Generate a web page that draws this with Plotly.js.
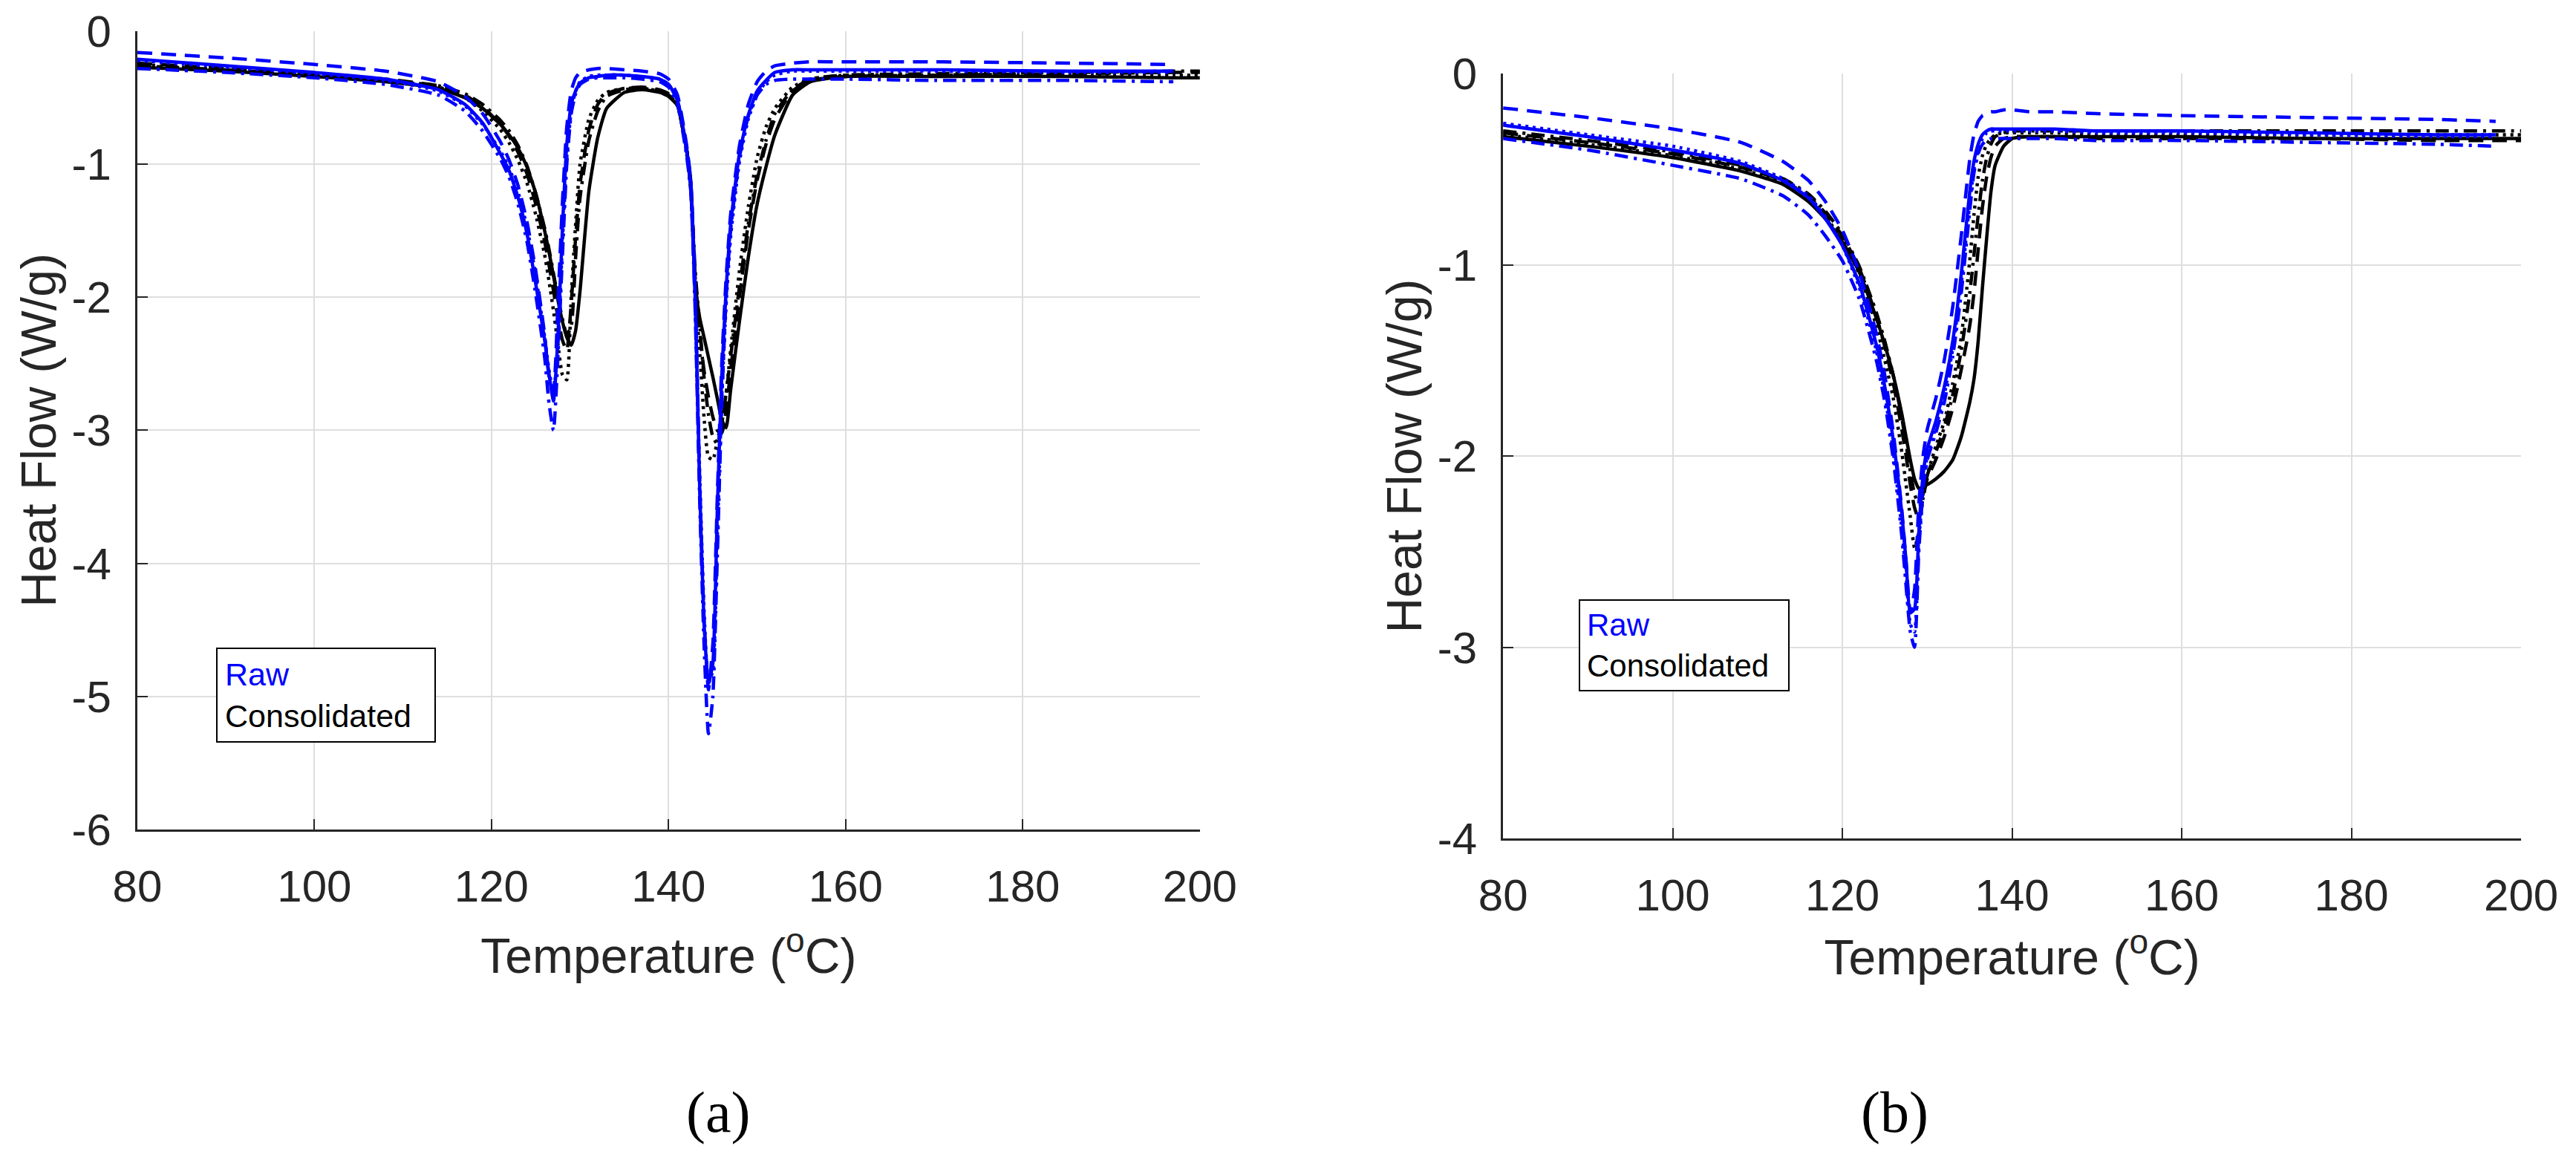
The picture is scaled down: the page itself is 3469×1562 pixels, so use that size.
<!DOCTYPE html>
<html>
<head>
<meta charset="utf-8">
<script src="https://cdn.plot.ly/plotly-3.0.1.min.js"></script>
<style>
    html, body { margin: 0; padding: 0; background: #ffffff; }
    #graph { width: 3469px; height: 1562px; }
</style>
</head>
<body>
<div id="graph"></div>
<script>
// temperature grid (C) for panel (a) and (b)
var tempA = [80, 90, 100, 108, 114, 117, 119, 121, 122, 123, 124, 125, 126, 126.5, 127, 127.5, 128, 128.5, 129, 129.5,
    130, 131, 132, 133, 135, 137, 139, 140, 141, 142, 142.5, 143, 143.5, 144, 144.5, 145, 145.5, 146, 146.5, 147,
    148, 149, 150, 151, 152, 154, 156, 160, 170, 185, 197, 200];
var tempB = [80, 90, 100, 108, 113, 116, 118, 120, 122, 124, 125, 126, 127, 127.5, 128, 128.5, 129, 129.5, 130, 131,
    132, 133, 134, 135, 135.5, 136, 136.5, 137, 137.5, 138, 139, 140, 142, 145, 150, 160, 175, 190, 197, 200];

// panel (a) heat flow (W/g), raw samples (blue)
var rawA_solid = [-0.21, -0.26, -0.31, -0.36, -0.44, -0.55, -0.69, -0.92, -1.05, -1.25, -1.52, -1.90, -2.32, -2.58, -2.78, -2.30, -1.50, -0.85, -0.55, -0.45,
    -0.39, -0.35, -0.34, -0.33, -0.33, -0.34, -0.36, -0.40, -0.52, -0.88, -1.15, -2.00, -3.40, -4.45, -4.90, -4.75, -3.60, -2.60, -1.94, -1.46,
    -0.92, -0.63, -0.45, -0.37, -0.31, -0.29, -0.29, -0.29, -0.29, -0.30, -0.30, null];
var rawA_dash = [-0.16, -0.20, -0.25, -0.30, -0.38, -0.49, -0.62, -0.83, -0.97, -1.16, -1.43, -1.80, -2.28, -2.60, -2.70, -2.05, -1.30, -0.72, -0.45, -0.35,
    -0.31, -0.29, -0.28, -0.28, -0.29, -0.30, -0.32, -0.36, -0.48, -0.84, -1.12, -1.95, -3.35, -4.40, -4.95, -4.60, -3.50, -2.50, -1.85, -1.38,
    -0.86, -0.55, -0.38, -0.30, -0.26, -0.24, -0.23, -0.23, -0.23, -0.24, -0.25, null];
var rawA_dot = [-0.22, -0.27, -0.32, -0.37, -0.45, -0.56, -0.70, -0.90, -1.03, -1.21, -1.47, -1.84, -2.30, -2.55, -2.72, -2.35, -1.60, -0.95, -0.60, -0.45,
    -0.38, -0.34, -0.33, -0.33, -0.33, -0.34, -0.36, -0.40, -0.52, -0.88, -1.18, -2.05, -3.30, -4.35, -4.90, -4.80, -3.80, -2.75, -2.05, -1.55,
    -0.98, -0.66, -0.48, -0.38, -0.33, -0.30, -0.30, -0.30, -0.30, -0.31, -0.31, null];
var rawA_dashdot = [-0.28, -0.31, -0.35, -0.40, -0.48, -0.60, -0.75, -0.96, -1.10, -1.30, -1.58, -1.98, -2.45, -2.80, -3.00, -2.45, -1.70, -1.00, -0.62, -0.47,
    -0.40, -0.36, -0.35, -0.35, -0.35, -0.36, -0.38, -0.42, -0.55, -0.92, -1.20, -2.10, -3.50, -4.60, -5.28, -5.00, -3.95, -2.80, -2.00, -1.50,
    -0.95, -0.64, -0.48, -0.40, -0.37, -0.36, -0.36, -0.36, -0.37, -0.37, -0.38, null];

// panel (a) consolidated samples (black)
var consA_solid = [-0.27, -0.30, -0.34, -0.38, -0.43, -0.50, -0.58, -0.70, -0.78, -0.88, -1.02, -1.22, -1.50, -1.66, -1.84, -2.02, -2.18, -2.30, -2.36, -2.25,
    -1.95, -1.20, -0.80, -0.58, -0.46, -0.44, -0.46, -0.49, -0.56, -0.88, -1.12, -1.90, -2.15, -2.30, -2.45, -2.60, -2.76, -2.92, -2.98, -2.70,
    -2.18, -1.70, -1.30, -1.02, -0.78, -0.48, -0.38, -0.34, -0.34, -0.34, -0.35, -0.35];
var consA_dash = [-0.24, -0.28, -0.32, -0.36, -0.41, -0.48, -0.57, -0.70, -0.79, -0.91, -1.07, -1.30, -1.58, -1.76, -1.95, -2.15, -2.32, -2.40, -2.05, -1.55,
    -1.15, -0.74, -0.55, -0.47, -0.43, -0.42, -0.44, -0.47, -0.55, -0.88, -1.18, -1.85, -2.25, -2.55, -2.75, -2.90, -3.00, -3.02, -2.85, -2.55,
    -2.00, -1.50, -1.12, -0.85, -0.66, -0.45, -0.37, -0.34, -0.33, -0.32, -0.31, -0.31];
var consA_dot = [-0.25, -0.29, -0.33, -0.37, -0.42, -0.50, -0.60, -0.74, -0.84, -0.97, -1.14, -1.38, -1.68, -1.88, -2.10, -2.35, -2.58, -2.62, -2.00, -1.45,
    -1.00, -0.66, -0.52, -0.46, -0.43, -0.43, -0.45, -0.48, -0.56, -0.90, -1.20, -1.95, -2.40, -2.90, -3.20, -3.22, -3.08, -2.92, -2.72, -2.40,
    -1.80, -1.32, -0.95, -0.72, -0.58, -0.42, -0.36, -0.33, -0.33, -0.33, -0.33, -0.33];
var consA_dashdot = [-0.26, -0.29, -0.33, -0.37, -0.41, -0.47, -0.55, -0.67, -0.75, -0.86, -1.01, -1.22, -1.48, -1.64, -1.82, -2.00, -2.16, -2.28, -2.22, -1.70,
    -1.25, -0.82, -0.60, -0.49, -0.44, -0.43, -0.45, -0.48, -0.55, -0.86, -1.15, -1.80, -2.20, -2.60, -2.88, -3.05, -3.10, -2.95, -2.72, -2.45,
    -1.92, -1.45, -1.08, -0.82, -0.62, -0.44, -0.36, -0.33, -0.32, -0.31, -0.30, -0.30];

// panel (b) raw samples (blue)
var rawB_solid = [-0.27, -0.33, -0.40, -0.47, -0.56, -0.65, -0.76, -0.90, -1.10, -1.42, -1.64, -1.92, -2.30, -2.55, -2.82, -2.80, -2.40, -2.10, -1.96, -1.82,
    -1.64, -1.40, -1.05, -0.62, -0.46, -0.37, -0.32, -0.30, -0.29, -0.29, -0.29, -0.29, -0.29, -0.29, -0.30, -0.30, -0.31, -0.32, -0.32, null];
var rawB_dash = [-0.18, -0.23, -0.29, -0.36, -0.46, -0.56, -0.67, -0.82, -1.04, -1.36, -1.58, -1.88, -2.28, -2.55, -2.82, -2.70, -2.25, -2.00, -1.86, -1.70,
    -1.50, -1.22, -0.85, -0.45, -0.32, -0.25, -0.22, -0.21, -0.20, -0.20, -0.19, -0.19, -0.20, -0.20, -0.21, -0.22, -0.23, -0.24, -0.25, null];
var rawB_dot = [-0.26, -0.32, -0.38, -0.46, -0.55, -0.64, -0.75, -0.90, -1.12, -1.45, -1.68, -1.98, -2.38, -2.62, -2.88, -2.92, -2.45, -2.15, -2.00, -1.85,
    -1.68, -1.44, -1.10, -0.68, -0.50, -0.40, -0.34, -0.31, -0.30, -0.30, -0.30, -0.30, -0.30, -0.30, -0.31, -0.31, -0.32, -0.33, -0.33, null];
var rawB_dashdot = [-0.34, -0.40, -0.48, -0.55, -0.64, -0.74, -0.85, -0.98, -1.18, -1.50, -1.72, -2.02, -2.42, -2.68, -2.92, -3.00, -2.50, -2.18, -2.02, -1.88,
    -1.72, -1.48, -1.15, -0.72, -0.52, -0.42, -0.37, -0.35, -0.34, -0.34, -0.34, -0.34, -0.34, -0.34, -0.35, -0.35, -0.36, -0.37, -0.38, null];

// panel (b) consolidated samples (black)
var consB_solid = [-0.33, -0.38, -0.44, -0.51, -0.58, -0.67, -0.76, -0.88, -1.04, -1.28, -1.42, -1.58, -1.78, -1.90, -2.02, -2.12, -2.17, -2.16, -2.15, -2.12,
    -2.08, -2.02, -1.90, -1.72, -1.60, -1.40, -1.12, -0.86, -0.62, -0.48, -0.38, -0.34, -0.33, -0.33, -0.33, -0.33, -0.34, -0.34, -0.34, -0.34];
var consB_dash = [-0.31, -0.36, -0.42, -0.49, -0.56, -0.64, -0.73, -0.85, -1.02, -1.27, -1.43, -1.62, -1.86, -2.00, -2.15, -2.27, -2.33, -2.22, -2.12, -2.02,
    -1.90, -1.75, -1.55, -1.32, -1.15, -0.92, -0.70, -0.54, -0.44, -0.38, -0.34, -0.33, -0.33, -0.33, -0.34, -0.34, -0.34, -0.35, -0.35, -0.35];
var consB_dot = [-0.32, -0.37, -0.43, -0.50, -0.57, -0.65, -0.75, -0.87, -1.05, -1.32, -1.50, -1.70, -1.98, -2.15, -2.32, -2.48, -2.40, -2.22, -2.10, -1.95,
    -1.82, -1.62, -1.38, -0.98, -0.74, -0.54, -0.43, -0.37, -0.34, -0.32, -0.31, -0.31, -0.31, -0.31, -0.32, -0.32, -0.32, -0.32, -0.32, -0.32];
var consB_dashdot = [-0.30, -0.35, -0.41, -0.48, -0.55, -0.63, -0.72, -0.84, -1.01, -1.25, -1.40, -1.58, -1.80, -1.94, -2.08, -2.20, -2.25, -2.20, -2.10, -1.98,
    -1.85, -1.68, -1.45, -1.15, -0.95, -0.74, -0.56, -0.44, -0.37, -0.33, -0.31, -0.30, -0.30, -0.30, -0.30, -0.30, -0.30, -0.30, -0.30, -0.30];

var xTicks = [80, 100, 120, 140, 160, 180, 200];
var yTicksA = [0, -1, -2, -3, -4, -5, -6];
var yTicksB = [0, -1, -2, -3, -4];
// plain hyphen minus as in the matlab figure
var yLabelsA = ['0', '-1', '-2', '-3', '-4', '-5', '-6'];
var yLabelsB = ['0', '-1', '-2', '-3', '-4'];

var BLUE = '#0000ff';
var BLACK = '#000000';
// matlab style line patterns
var DASH = '20px,12px';
var DOT = '4px,6px';
var DASHDOT = '18px,8px,4px,8px';

function makeTrace(x, y, color, dash, xa, ya) {
    return {
        x: x,
        y: y,
        mode: 'lines',
        type: 'scatter',
        xaxis: xa,
        yaxis: ya,
        showlegend: false,
        hoverinfo: 'skip',
        line: {color: color, width: 4.5, dash: dash, shape: 'spline', smoothing: 0.5}
    };
}

var data = [
    makeTrace(tempA, consA_solid, BLACK, 'solid', 'x', 'y'),
    makeTrace(tempA, consA_dash, BLACK, DASH, 'x', 'y'),
    makeTrace(tempA, consA_dot, BLACK, DOT, 'x', 'y'),
    makeTrace(tempA, consA_dashdot, BLACK, DASHDOT, 'x', 'y'),
    makeTrace(tempA, rawA_solid, BLUE, 'solid', 'x', 'y'),
    makeTrace(tempA, rawA_dash, BLUE, DASH, 'x', 'y'),
    makeTrace(tempA, rawA_dot, BLUE, DOT, 'x', 'y'),
    makeTrace(tempA, rawA_dashdot, BLUE, DASHDOT, 'x', 'y'),

    makeTrace(tempB, consB_solid, BLACK, 'solid', 'x2', 'y2'),
    makeTrace(tempB, consB_dash, BLACK, DASH, 'x2', 'y2'),
    makeTrace(tempB, consB_dot, BLACK, DOT, 'x2', 'y2'),
    makeTrace(tempB, consB_dashdot, BLACK, DASHDOT, 'x2', 'y2'),
    makeTrace(tempB, rawB_solid, BLUE, 'solid', 'x2', 'y2'),
    makeTrace(tempB, rawB_dash, BLUE, DASH, 'x2', 'y2'),
    makeTrace(tempB, rawB_dot, BLUE, DOT, 'x2', 'y2'),
    makeTrace(tempB, rawB_dashdot, BLUE, DASHDOT, 'x2', 'y2')
];

var tickFont = {family: 'Liberation Sans, Arial, sans-serif', size: 60, color: '#262626'};
var titleFont = {family: 'Liberation Sans, Arial, sans-serif', size: 66, color: '#262626'};

function xAxis(domain, anchor, standoff) {
    return {
        domain: domain,
        anchor: anchor,
        range: [80, 200],
        tickvals: xTicks,
        ticks: 'inside',
        ticklen: 14,
        tickwidth: 2,
        tickcolor: '#262626',
        showline: true,
        linecolor: '#262626',
        linewidth: 3,
        showgrid: true,
        gridcolor: '#dedede',
        gridwidth: 2,
        zeroline: false,
        tickfont: tickFont,
        ticklabelstandoff: 22,
        title: {text: 'Temperature (<sup>o</sup>C)', font: titleFont, standoff: standoff}
    };
}
function yAxis(domain, anchor, range, ticks, labels) {
    return {
        domain: domain,
        anchor: anchor,
        range: range,
        tickvals: ticks,
        ticktext: labels,
        ticks: 'inside',
        ticklen: 14,
        tickwidth: 2,
        tickcolor: '#262626',
        showline: true,
        linecolor: '#262626',
        linewidth: 3,
        showgrid: true,
        gridcolor: '#dedede',
        gridwidth: 2,
        zeroline: false,
        tickfont: tickFont,
        ticklabelstandoff: 20,
        title: {text: 'Heat Flow (W/g)', font: titleFont, standoff: 0}
    };
}

var legendText = '<span style="color:#0000ff">Raw</span><br>Consolidated';

var layout = {
    width: 3469,
    height: 1562,
    margin: {l: 0, r: 0, t: 0, b: 0},
    paper_bgcolor: '#ffffff',
    plot_bgcolor: '#ffffff',
    showlegend: false,
    xaxis: xAxis([0.0533, 0.4658], 'y', 38),
    yaxis: yAxis([0.2849, 0.9731], 'x', [-6, 0], yTicksA, yLabelsA),
    xaxis2: xAxis([0.5835, 0.9787], 'y2', 28),
    yaxis2: yAxis([0.2772, 0.9366], 'x2', [-4, 0], yTicksB, yLabelsB),
    annotations: [
        {
            xref: 'paper', yref: 'paper', x: 0.0839, y: 0.4417, xanchor: 'left', yanchor: 'top',
            text: legendText, showarrow: false, align: 'left', width: 272,
            font: {family: 'Liberation Sans, Arial, sans-serif', size: 43, color: '#000000'},
            bordercolor: '#000000', borderwidth: 2, borderpad: 10, bgcolor: '#ffffff'
        },
        {
            xref: 'paper', yref: 'paper', x: 0.6129, y: 0.4834, xanchor: 'left', yanchor: 'top',
            text: legendText, showarrow: false, align: 'left', width: 262,
            font: {family: 'Liberation Sans, Arial, sans-serif', size: 42, color: '#000000'},
            bordercolor: '#000000', borderwidth: 2, borderpad: 9, bgcolor: '#ffffff'
        },
        {
            xref: 'paper', yref: 'paper', x: 0.2788, y: 0.0416, xanchor: 'center', yanchor: 'middle',
            text: '(a)', showarrow: false,
            font: {family: 'Liberation Serif, Times New Roman, serif', size: 78, color: '#000000'}
        },
        {
            xref: 'paper', yref: 'paper', x: 0.7354, y: 0.0416, xanchor: 'center', yanchor: 'middle',
            text: '(b)', showarrow: false,
            font: {family: 'Liberation Serif, Times New Roman, serif', size: 78, color: '#000000'}
        }
    ]
};

Plotly.newPlot('graph', data, layout, {staticPlot: true});
</script>
</body>
</html>
